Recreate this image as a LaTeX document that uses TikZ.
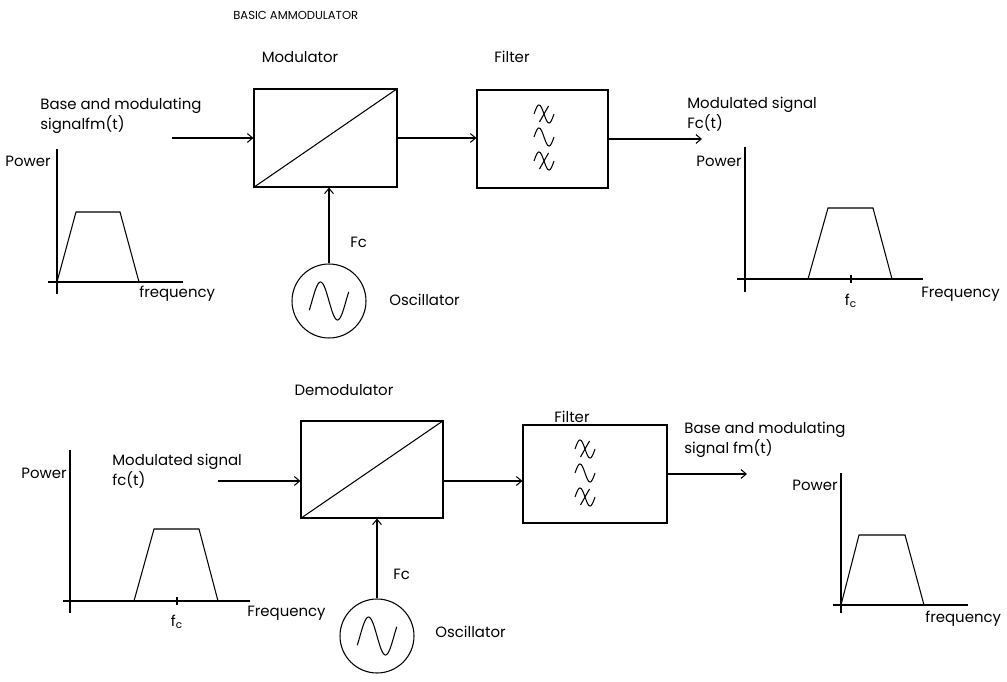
\documentclass[tikz,border=0pt]{standalone}
\usepackage{fontspec}
\setmainfont{Poppins}
\usetikzlibrary{arrows.meta}
\tikzset{
  lbl/.style={inner sep=0pt, font=\fontsize{8.5}{9.8}\selectfont, align=left},
  blk/.style={draw, line width=0.6pt, inner sep=0pt},
  osc/.style={draw, circle, line width=0.6pt, inner sep=0pt, minimum size=1.48cm},
  conn/.style={line width=0.6pt, -{Straight Barb[length=3pt,width=5pt]}},
  ln/.style={line width=0.6pt},
  wave/.pic={
    \draw[line width=0.6pt] plot[domain=0:1, samples=30, smooth] ({-10+20*\x},{-9*sin(360*\x)});
    \draw[line width=0.6pt] (4.5,-8) -- (-4.5,8);
  },
  plainwave/.pic={
    \draw[line width=0.6pt] plot[domain=0:1, samples=30, smooth] ({-10+20*\x},{-9*sin(360*\x)});
  }
}
\begin{document}
\begin{tikzpicture}[x=0.02cm,y=-0.02cm]
\useasboundingbox (0,0) rectangle (1007,682);

% ---------------- top: modulator ----------------
\node[lbl, anchor=west, font=\fontsize{6.6}{8}\selectfont] (title) at (233,15) {BASIC AMMODULATOR};
\node[lbl] (modlbl) at (300,57) {Modulator};
\node[lbl] (fil1lbl) at (512,57) {Filter};

\node[blk, minimum width=2.86cm, minimum height=1.96cm] (mod) at (325.5,138) {};
\draw[ln] (mod.south west) -- (mod.north east);
\node[blk, minimum width=2.62cm, minimum height=1.96cm] (fil1) at (542.5,139) {};
\pic at (544,114) {wave};
\pic at (544,137) {plainwave};
\pic at (544,161) {wave};

\coordinate (in1) at (172,138);
\coordinate (out1) at (702,139);
\draw[conn] (in1) -- (mod.west);
\draw[conn] (mod.east) -- (mod.east -| fil1.west);
\draw[conn] (fil1.east) -- (out1);

\node[osc] (osc1) at (329,301) {};
\draw[ln] plot[domain=-0.08:1.08, samples=40, smooth] ({329+34*(\x-0.5)},{301-19*sin(360*\x)});
\draw[conn] (osc1.north) -- (osc1.north |- mod.south);
\node[lbl, anchor=west] (fc1) at (350,242) {Fc};
\node[lbl, anchor=west] (osc1lbl) at (389,300) {Oscillator};

\node[lbl, anchor=west] (in1lbl) at (40,116) {Base and modulating\\signalfm(t)};
\node[lbl, anchor=west] (out1lbl) at (687,114) {Modulated signal\\Fc(t)};

% top-left spectrum
\draw[ln] (57,149) -- (57,294);
\draw[ln] (48,282) -- (183,282);
\draw[ln] (57,282) -- (76,212) -- (120,212) -- (139,282);
\node[lbl, anchor=east] (p1) at (51,161) {Power};
\node[lbl, anchor=west] (f1) at (139,294) {frequency};

% top-right spectrum
\draw[ln] (745,147) -- (745,292);
\draw[ln] (737,279) -- (923,279);
\draw[ln] (808,279) -- (828,208) -- (873,208) -- (892,279);
\draw[ln] (851,275) -- (851,283);
\node[lbl, anchor=east] (p2) at (742,161) {Power};
\node[lbl, anchor=west] (f2) at (921,294) {Frequency};
\node[lbl] (fc2) at (851,301) {f\textsubscript{c}};

% ---------------- bottom: demodulator ----------------
\node[lbl] (demlbl) at (344,390) {Demodulator};
\node[lbl] (fil2lbl) at (572,417) {Filter};

\node[blk, minimum width=2.84cm, minimum height=1.94cm] (dem) at (372,469.5) {};
\draw[ln] (dem.south west) -- (dem.north east);
\node[blk, minimum width=2.88cm, minimum height=1.96cm] (fil2) at (595,474) {};
\pic at (585,449) {wave};
\pic at (585,473) {plainwave};
\pic at (585,497) {wave};

\coordinate (in2) at (218,481);
\coordinate (out2) at (747,474);
\draw[conn] (in2) -- (in2 -| dem.west);
\draw[conn] (dem.east |- in2) -- (in2 -| fil2.west);
\draw[conn] (fil2.east) -- (out2);

\node[osc] (osc2) at (377,636) {};
\draw[ln] plot[domain=-0.08:1.08, samples=40, smooth] ({377+34*(\x-0.5)},{636-19*sin(360*\x)});
\draw[conn] (osc2.north) -- (osc2.north |- dem.south);
\node[lbl, anchor=west] (fc3) at (393,574) {Fc};
\node[lbl, anchor=west] (osc2lbl) at (435,632) {Oscillator};

\node[lbl, anchor=west] (in2lbl) at (112,471) {Modulated signal\\fc(t)};
\node[lbl, anchor=west] (out2lbl) at (684,440) {Base and modulating\\signal fm(t)};

% bottom-left spectrum
\draw[ln] (70,450) -- (70,613);
\draw[ln] (63,601) -- (250,601);
\draw[ln] (134,601) -- (154,529) -- (199,529) -- (218,601);
\draw[ln] (177,597) -- (177,605);
\node[lbl, anchor=east] (p3) at (67,473) {Power};
\node[lbl, anchor=west] (f3) at (247,613) {Frequency};
\node[lbl] (fc4) at (177,622) {f\textsubscript{c}};

% bottom-right spectrum
\draw[ln] (841,473) -- (841,613);
\draw[ln] (833,605) -- (968,605);
\draw[ln] (841,605) -- (859,535) -- (905,535) -- (924,605);
\node[lbl, anchor=east] (p4) at (838,485) {Power};
\node[lbl, anchor=west] (f4) at (925,619) {frequency};
\end{tikzpicture}
\end{document}
